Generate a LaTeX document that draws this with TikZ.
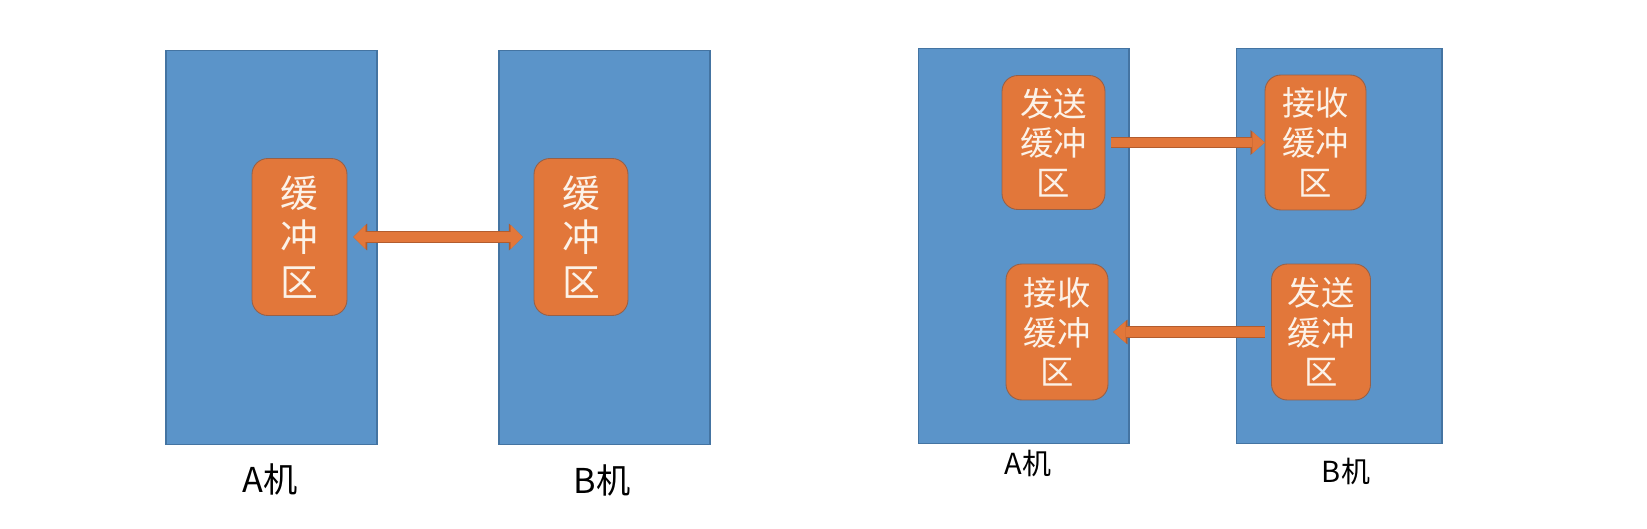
\documentclass[tikz,border=0pt]{standalone}
\usepackage{fontspec}
\setmainfont{Noto Sans CJK SC}
\usepackage{tikz}
\usetikzlibrary{arrows.meta}
\definecolor{boxblue}{RGB}{91,148,201}
\definecolor{boxedge}{RGB}{68,116,162}
\definecolor{bufforange}{RGB}{226,119,58}
\definecolor{buffedge}{RGB}{150,96,72}
\definecolor{arrowedge}{RGB}{178,92,46}
\definecolor{bufftext}{RGB}{252,242,232}
\tikzset{
  machine/.style={draw=boxedge, fill=boxblue, line width=0.6pt},
  buffer/.style={draw=buffedge, fill=bufforange, line width=0.5pt, rounded corners=9pt,
    text=bufftext, align=center, inner sep=0pt},
  bigbuf/.style={buffer, font=\fontsize{21.5}{25.2}\selectfont},
  smallbuf/.style={buffer, font=\fontsize{19}{22.6}\selectfont},
  fatarrow/.style={draw=bufforange, line width=5.6pt,
    -{Triangle[width=12.4pt,length=7pt,line width=0.1pt]},
    preaction={draw=arrowedge, line width=6.7pt,
      -{Triangle[width=14pt,length=8pt,line width=0.1pt]}}},
  fatboth/.style={draw=bufforange, line width=5.6pt,
    {Triangle[width=13.6pt,length=6.8pt,line width=0.1pt]}-{Triangle[width=13.6pt,length=6.8pt,line width=0.1pt]},
    preaction={draw=arrowedge, line width=6.7pt,
      {Triangle[width=15.2pt,length=7.8pt,line width=0.1pt]}-{Triangle[width=15.2pt,length=7.8pt,line width=0.1pt]}}}
}
\begin{document}
\begin{tikzpicture}[x=0.02cm, y=-0.02cm]
            \useasboundingbox (0,0) rectangle (1647,528);

            % Left picture: one buffer in each machine
            \node[machine, minimum width=4.22cm, minimum height=7.9cm] (hostA) at (271.5,247.5) {};
            \node[machine, minimum width=4.22cm, minimum height=7.9cm] (hostB) at (604.5,247.5) {};
            \node[bigbuf, minimum width=1.9cm, minimum height=3.14cm] (bufA) at (299.5,237) {缓\\冲\\区};
            \node[bigbuf, minimum width=1.88cm, minimum height=3.14cm] (bufB) at (581,237) {缓\\冲\\区};
            \draw[fatboth, shorten <=3.4pt, shorten >=6.2pt] (bufA) -- (bufB);
            \node[font=\fontsize{19.5}{22}\selectfont] (labA) at (270,479) {A机};
            \node[font=\fontsize{19.5}{22}\selectfont] (labB) at (602,480) {B机};

            % Right picture: send and receive buffers
            \node[machine, minimum width=4.22cm, minimum height=7.92cm] (hostA2) at (1023.5,246) {};
            \node[machine, minimum width=4.12cm, minimum height=7.92cm] (hostB2) at (1339,246) {};
            \node[smallbuf, minimum width=2.06cm, minimum height=2.68cm] (sendA) at (1053.5,142.5) {发送\\缓冲\\区};
            \node[smallbuf, minimum width=2.02cm, minimum height=2.7cm] (recvB) at (1315.5,142.5) {接收\\缓冲\\区};
            \node[smallbuf, minimum width=2.04cm, minimum height=2.72cm] (recvA) at (1057,332) {接收\\缓冲\\区};
            \node[smallbuf, minimum width=1.98cm, minimum height=2.72cm] (sendB) at (1321,332) {发送\\缓冲\\区};
            \draw[fatarrow, shorten <=3.4pt] (sendA) -- (recvB);
            \draw[fatarrow, shorten <=3.4pt, shorten >=2.8pt] (sendB) -- (recvA);
            \node[font=\fontsize{16.5}{19}\selectfont] (labA2) at (1028,463) {A机};
            \node[font=\fontsize{16.5}{19}\selectfont] (labB2) at (1346,471) {B机};
        \end{tikzpicture}
\end{document}
